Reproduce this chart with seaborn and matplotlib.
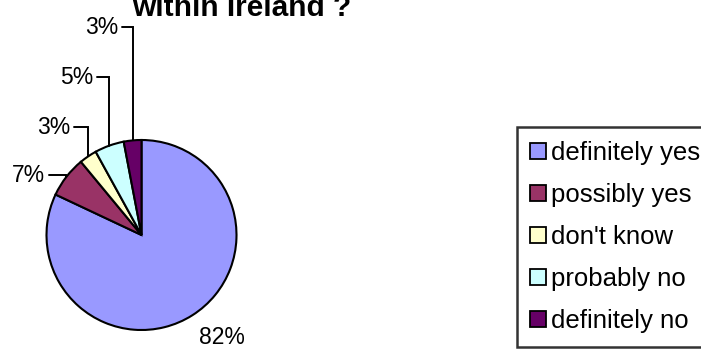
import numpy as np
import seaborn as sns
import matplotlib.pyplot as plt
from matplotlib.lines import Line2D

sns.set_theme(style="white")
plt.rcParams['font.family'] = ['Liberation Sans', 'DejaVu Sans']
plt.rcParams['text.color'] = 'black'

categories = ["definitely yes", "possibly yes", "don't know", "probably no", "definitely no"]
shares = [82, 7, 3, 5, 3]
colors = ["#9999FF", "#993366", "#FFFFCC", "#CCFFFF", "#660066"]
title = "within Ireland ?"

fig = plt.figure(figsize=(7.01, 3.5), dpi=100)
ax = fig.add_axes([0, 0, 1, 1])

# pie placed in pixel coords (y measured from bottom)
cx, cy, r = 141.5, 115, 95
wedges, _ = ax.pie(shares, colors=sns.color_palette(colors), startangle=90, counterclock=False,
                   center=(cx, cy), radius=r,
                   wedgeprops=dict(edgecolor="black", linewidth=1.5))
ax.set_xlim(0, 701)
ax.set_ylim(0, 350)
ax.set_aspect("equal")
ax.axis("off")

# label spots for the small slices (right edge x, y from top)
label_spots = {1: (45, 175), 2: (70, 127), 3: (93, 77), 4: (118, 27)}

for i, w in enumerate(wedges):
    mid = np.deg2rad((w.theta1 + w.theta2) / 2)
    ax_, ay_ = cx + r * np.cos(mid), cy + r * np.sin(mid)
    txt = f"{shares[i]}%"
    if i in label_spots:
        lx, ly = label_spots[i]
        ly = 350 - ly
        ax.text(lx, ly, txt, ha="right", va="center", fontsize=16.5, color="black")
        ax.plot([lx + 4, ax_, ax_], [ly, ly, ay_], color="black", lw=1.4, solid_joinstyle="miter")
    else:
        ax.text(cx + 1.2 * r * np.cos(mid) - 4, cy + 1.2 * r * np.sin(mid) - 6, txt,
                ha="left", va="center", fontsize=16.5, color="black")

fig.text(132 / 701, 1 - 16 / 350, title, ha="left", va="baseline",
         fontsize=21.5, fontweight="bold", color="black")

handles = [Line2D([], [], marker="s", linestyle="none", markersize=11, markerfacecolor=c,
                  markeredgecolor="black", markeredgewidth=1.3) for c in colors]
leg = fig.legend(handles, categories, loc="upper left", bbox_to_anchor=(517 / 701, 1 - 127 / 350),
                 bbox_transform=fig.transFigure, borderaxespad=0, frameon=True, fancybox=False,
                 fontsize=18.5, handlelength=0.55, handletextpad=0.23, borderpad=0.55,
                 labelspacing=0.7)
for t in leg.get_texts():
    t.set_color("black")
leg.get_frame().set_edgecolor("black")
leg.get_frame().set_linewidth(1.8)

fig.savefig("out.png", dpi=100)
